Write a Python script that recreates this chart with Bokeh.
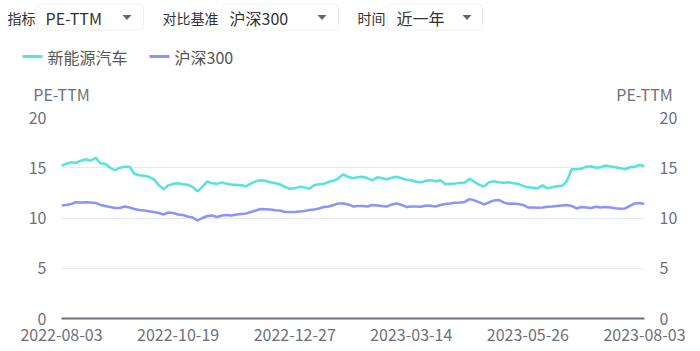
from bokeh.plotting import figure
from bokeh.models import Range1d, LinearAxis, FixedTicker, BoxAnnotation
from bokeh.layouts import column
from bokeh.core.properties import value
from bokeh.embed import file_html
from bokeh.resources import INLINE

# ---------------- data ----------------
series_names = ["新能源汽车", "沪深300"]
nev_pe = [15.2, 15.4, 15.55, 15.5, 15.7, 15.85, 15.7, 16.0, 15.45, 15.4, 15.0, 14.75,
          15.0, 15.1, 15.1, 14.4, 14.25, 14.2, 14.1, 13.85, 13.3, 12.85, 13.25, 13.4,
          13.45, 13.35, 13.3, 13.1, 12.65, 13.1, 13.65, 13.45, 13.4, 13.55, 13.4, 13.3,
          13.3, 13.25, 13.15, 13.45, 13.65, 13.75, 13.7, 13.55, 13.45, 13.35, 13.1, 12.9,
          12.95, 13.1, 13.05, 12.9, 13.25, 13.35, 13.4, 13.6, 13.7, 13.95, 14.35, 14.1,
          13.95, 14.05, 14.1, 13.95, 13.75, 14.05, 13.95, 13.85, 14.0, 14.1, 13.95, 13.8,
          13.75, 13.6, 13.55, 13.7, 13.75, 13.65, 13.75, 13.35, 13.4, 13.42, 13.5, 13.5,
          13.9, 13.6, 13.3, 13.15, 13.55, 13.65, 13.55, 13.5, 13.55, 13.45, 13.4, 13.2,
          13.05, 13.0, 12.95, 13.25, 12.95, 13.05, 13.15, 13.2, 13.65, 14.85, 14.85, 14.9,
          15.1, 15.15, 15.0, 15.05, 15.22, 15.12, 15.05, 14.96, 14.85, 15.05, 15.1, 15.28,
          15.15]
hs300_pe = [11.24, 11.3, 11.4, 11.57, 11.55, 11.57, 11.55, 11.5, 11.3, 11.2, 11.1, 11.0,
            11.0, 11.15, 11.05, 10.9, 10.8, 10.75, 10.68, 10.6, 10.5, 10.35, 10.55, 10.5,
            10.35, 10.3, 10.15, 10.05, 9.75, 10.0, 10.2, 10.25, 10.1, 10.25, 10.3, 10.25,
            10.35, 10.4, 10.45, 10.6, 10.75, 10.9, 10.88, 10.85, 10.78, 10.75, 10.6, 10.6,
            10.6, 10.65, 10.7, 10.8, 10.85, 10.95, 11.1, 11.15, 11.3, 11.45, 11.45, 11.35,
            11.15, 11.2, 11.2, 11.15, 11.3, 11.25, 11.2, 11.15, 11.35, 11.45, 11.3, 11.1,
            11.15, 11.15, 11.12, 11.25, 11.22, 11.15, 11.3, 11.4, 11.45, 11.52, 11.55, 11.6,
            11.88, 11.75, 11.55, 11.35, 11.55, 11.75, 11.8, 11.55, 11.42, 11.45, 11.4, 11.3,
            11.05, 11.05, 11.02, 11.05, 11.12, 11.15, 11.2, 11.25, 11.3, 11.2, 10.95, 11.1,
            11.05, 11.0, 11.12, 11.05, 11.1, 11.05, 10.98, 10.92, 10.95, 11.2, 11.45, 11.5,
            11.4]
date_labels = ["2022-08-03", "2022-10-19", "2022-12-27", "2023-03-14", "2023-05-26", "2023-08-03"]
y_ticks = [0, 5, 10, 15, 20]

n = len(nev_pe)
x_nev = list(range(len(nev_pe)))
x_hs = list(range(len(hs300_pe)))
step = (n - 1) / (len(date_labels) - 1)
x_tick_pos = [round(i * step) for i in range(len(date_labels))]

FONT = "Noto Sans CJK SC"
CYAN = "#55E4DD"
BLUE = "#8A94FA"
AXIS_GRAY = "#6E7079"

# ---------------- top panel (controls + legend) ----------------
top = figure(width=700, height=105, x_range=Range1d(0, 700), y_range=Range1d(105, 0),
             x_axis_type=None, y_axis_type=None, toolbar_location=None,
             output_backend="svg", min_border=0)
top.frame_align = False
top.grid.visible = False
top.outline_line_color = None

boxes = [(36, 143), (221, 338), (387, 482)]
for l, r in boxes:
    top.add_layout(BoxAnnotation(left=l, right=r, top=3.5, bottom=29.5,
                                 fill_color="white", fill_alpha=1, level="underlay",
                                 line_color="#CFCFD6", line_width=1, border_radius=4))

top.text(x=[7, 162, 357], y=[17, 17, 17], text=["指标", "对比基准", "时间"],
         text_font=value(FONT), text_font_size="14px", text_color="#333333",
         text_baseline="middle", text_align="left")
top.text(x=[45, 229, 396], y=[17, 17, 17], text=["PE-TTM", "沪深300", "近一年"],
         text_font=value(FONT), text_font_size="16px", text_color="#333333",
         text_baseline="middle", text_align="left")
arrow_x = [126.5, 321.5, 466.5]
top.patches(xs=[[a - 4.5, a + 4.5, a] for a in arrow_x],
            ys=[[14.5, 14.5, 19.5] for _ in arrow_x],
            fill_color="#666666", line_color=None)

# legend
top.segment(x0=[22], y0=[56], x1=[42], y1=[56], line_color=CYAN, line_width=3)
top.segment(x0=[149], y0=[56], x1=[169], y1=[56], line_color=BLUE, line_width=3)
top.text(x=[47, 174], y=[56, 56], text=series_names,
         text_font=value(FONT), text_font_size="16px", text_color="#555555",
         text_baseline="middle", text_align="left")

# axis names
top.text(x=[61, 644], y=[93, 93], text=["PE-TTM", "PE-TTM"],
         text_font=value(FONT), text_font_size="16px", text_color=AXIS_GRAY,
         text_baseline="middle", text_align="center")

# ---------------- main chart ----------------
p = figure(width=700, height=246, x_range=Range1d(0, n - 1), y_range=Range1d(0, 20),
           toolbar_location=None, output_backend="svg",
           min_border_left=61, min_border_right=56, min_border_top=12, min_border_bottom=33)
p.frame_align = False
p.outline_line_color = None
p.xgrid.visible = False
p.ygrid.grid_line_color = "#E6E8F2"
p.ygrid.grid_line_width = 1

p.line(x_nev, nev_pe, line_color=CYAN, line_width=2.5)
p.line(x_hs, hs300_pe, line_color=BLUE, line_width=2.5)

right_axis = LinearAxis()
p.add_layout(right_axis, "right")

for ax in [p.yaxis[0], right_axis]:
    ax.ticker = FixedTicker(ticks=y_ticks)
    ax.axis_line_color = None
    ax.major_tick_line_color = None
    ax.minor_tick_line_color = None
    ax.major_label_standoff = 9
    ax.major_label_text_font = FONT
    ax.major_label_text_font_size = "16px"
    ax.major_label_text_color = AXIS_GRAY
p.ygrid.ticker = FixedTicker(ticks=y_ticks)

xa = p.xaxis[0]
xa.ticker = FixedTicker(ticks=x_tick_pos)
xa.major_label_overrides = {pos: lab for pos, lab in zip(x_tick_pos, date_labels)}
xa.axis_line_color = AXIS_GRAY
xa.axis_line_width = 2
xa.major_tick_line_color = None
xa.minor_tick_line_color = None
xa.major_label_standoff = 4
xa.major_label_text_font = FONT
xa.major_label_text_font_size = "16px"
xa.major_label_text_color = AXIS_GRAY

layout = column(top, p, spacing=0)
open("out.html", "w").write(file_html(layout, INLINE))
